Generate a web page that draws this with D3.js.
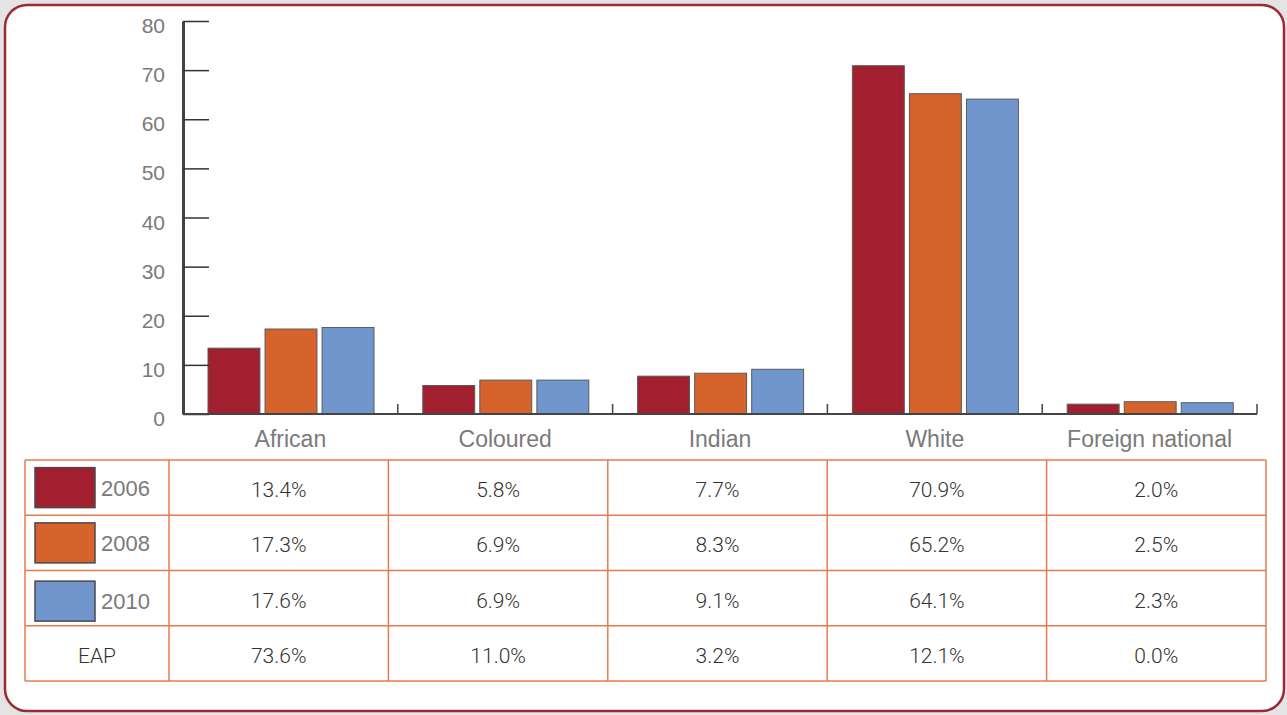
<!DOCTYPE html>
<html>
<head>
<meta charset="utf-8">
<script src="https://cdn.jsdelivr.net/npm/d3@7"></script>
<style>
  html, body { margin: 0; padding: 0; background: #e4e4e4; }
  svg { display: block; }
</style>
</head>
<body>
<div id="chart"></div>
<script>
// data
var categories = ["African", "Coloured", "Indian", "White", "Foreign national"];
var years = ["2006", "2008", "2010"];
var v2006 = [13.4, 5.8, 7.7, 70.9, 2.0];
var v2008 = [17.3, 6.9, 8.3, 65.2, 2.5];
var v2010 = [17.6, 6.9, 9.1, 64.1, 2.3];
var eap = [73.6, 11.0, 3.2, 12.1, 0.0];
var yTicks = [0, 10, 20, 30, 40, 50, 60, 70, 80];
var colors = ["#a11f2e", "#d5632b", "#7096cd"];

var series = [v2006, v2008, v2010];

var W = 1287, H = 715;
var svg = d3.select("#chart").append("svg")
    .attr("width", W)
    .attr("height", H);

// frame
svg.append("rect")
    .attr("x", 5).attr("y", 5)
    .attr("width", 1279).attr("height", 706)
    .attr("rx", 22).attr("ry", 22)
    .attr("fill", "#fff")
    .attr("stroke", "#9b2a31")
    .attr("stroke-width", 2.5);

// scales
var x = d3.scaleBand()
    .domain(categories)
    .range([183, 1257])
    .paddingInner(0).paddingOuter(0);

var xInner = d3.scaleBand()
    .domain(years)
    .range([25, 191])
    .paddingInner(0.09);

var y = d3.scaleLinear()
    .domain([0, 80])
    .range([414, 21]);

var labelFont = "'Liberation Sans', Arial, sans-serif";
var labelGray = "#7a7a7a";

// bars
var groups = svg.append("g").attr("class", "bars")
  .selectAll("g")
  .data(categories)
  .enter().append("g")
    .attr("transform", function(d) { return "translate(" + x(d) + ",0)"; });

groups.selectAll("rect")
  .data(function(d, i) {
    return years.map(function(yr, j) { return {year: yr, value: series[j][i], idx: j}; });
  })
  .enter().append("rect")
    .attr("x", function(d) { return xInner(d.year); })
    .attr("y", function(d) { return y(d.value); })
    .attr("width", xInner.bandwidth())
    .attr("height", function(d) { return y(0) - y(d.value); })
    .attr("fill", function(d) { return colors[d.idx]; })
    .attr("stroke", "#5a5a5a")
    .attr("stroke-width", 1);

// y axis
var yAxis = svg.append("g")
    .attr("class", "axis yaxis")
    .attr("transform", "translate(183,0)")
    .call(d3.axisLeft(y).tickValues(yTicks).tickSizeInner(-26).tickSizeOuter(0).tickPadding(18));

yAxis.select(".domain").attr("stroke", "#444").attr("stroke-width", 3);
yAxis.selectAll(".tick line").attr("stroke", "#333").attr("stroke-width", 1.5);
yAxis.selectAll(".tick text")
    .attr("fill", labelGray)
    .attr("dy", "0.55em")
    .style("font-family", labelFont)
    .style("font-size", "21px");

// x axis baseline and category boundary ticks
var xg = svg.append("g").attr("class", "axis xaxis");
xg.append("line")
    .attr("x1", x.range()[0]).attr("x2", x.range()[1])
    .attr("y1", y(0)).attr("y2", y(0))
    .attr("stroke", "#444").attr("stroke-width", 2);

xg.selectAll("line.sep")
  .data(categories)
  .enter().append("line")
    .attr("class", "sep")
    .attr("x1", function(d) { return x(d) + x.bandwidth(); })
    .attr("x2", function(d) { return x(d) + x.bandwidth(); })
    .attr("y1", y(0)).attr("y2", y(0) - 10)
    .attr("stroke", "#444").attr("stroke-width", 1.5);

xg.selectAll("text")
  .data(categories)
  .enter().append("text")
    .attr("x", function(d) { return x(d) + x.bandwidth() / 2; })
    .attr("y", 447)
    .attr("text-anchor", "middle")
    .attr("fill", labelGray)
    .style("font-family", labelFont)
    .style("font-size", "23px")
    .text(function(d) { return d; });

// table below
var rowLabels = ["2006", "2008", "2010", "EAP"];
var rows = [v2006, v2008, v2010, eap];

var tableLeft = 25, firstCol = 169, tableRight = 1266;
var rowY = d3.scaleBand()
    .domain(rowLabels)
    .range([460, 681]);
var colX = d3.scaleBand()
    .domain(categories)
    .range([firstCol, tableRight]);

var table = svg.append("g").attr("class", "table");
var lineColor = "#e37b4f";

table.selectAll("line.h")
  .data(rowLabels.concat(["end"]))
  .enter().append("line")
    .attr("class", "h")
    .attr("x1", tableLeft).attr("x2", tableRight)
    .attr("y1", function(d) { return d === "end" ? rowY.range()[1] : rowY(d); })
    .attr("y2", function(d) { return d === "end" ? rowY.range()[1] : rowY(d); })
    .attr("stroke", lineColor).attr("stroke-width", 1.5);

var vlines = [tableLeft].concat(categories.map(function(c) { return colX(c); }), [tableRight]);
table.selectAll("line.v")
  .data(vlines)
  .enter().append("line")
    .attr("class", "v")
    .attr("x1", function(d) { return d; }).attr("x2", function(d) { return d; })
    .attr("y1", rowY.range()[0]).attr("y2", rowY.range()[1])
    .attr("stroke", lineColor).attr("stroke-width", 1.5);

// legend swatches in first column
years.forEach(function(yr, j) {
  var cy = rowY(yr) + rowY.bandwidth() / 2 + (j === 2 ? 3 : 0);
  table.append("rect")
      .attr("x", 35).attr("y", cy - 20)
      .attr("width", 60).attr("height", 40)
      .attr("fill", colors[j])
      .attr("stroke", "#4a4a4a")
      .attr("stroke-width", 1.5);
  table.append("text")
      .attr("x", 101).attr("y", cy)
      .attr("dy", "0.36em")
      .attr("fill", labelGray)
      .style("font-family", labelFont)
      .style("font-size", "22px")
      .text(yr);
});

table.append("text")
    .attr("x", (tableLeft + firstCol) / 2)
    .attr("y", rowY("EAP") + rowY.bandwidth() / 2 + 2)
    .attr("dy", "0.36em")
    .attr("text-anchor", "middle")
    .attr("fill", "#333")
    .style("font-family", "Roboto, sans-serif")
    .style("font-weight", 300)
    .style("font-size", "21px")
    .text("EAP");

rowLabels.forEach(function(r, i) {
  table.selectAll("text.v" + i)
    .data(rows[i])
    .enter().append("text")
      .attr("class", "v" + i)
      .attr("x", function(d, k) { return colX(categories[k]) + colX.bandwidth() / 2; })
      .attr("y", rowY(r) + rowY.bandwidth() / 2 + 2)
      .attr("dy", "0.36em")
      .attr("text-anchor", "middle")
      .attr("fill", "#333")
      .style("font-family", "Roboto, sans-serif")
      .style("font-weight", 300)
      .style("font-size", "21px")
      .text(function(d) { return d.toFixed(1) + "%"; });
});
</script>
</body>
</html>
